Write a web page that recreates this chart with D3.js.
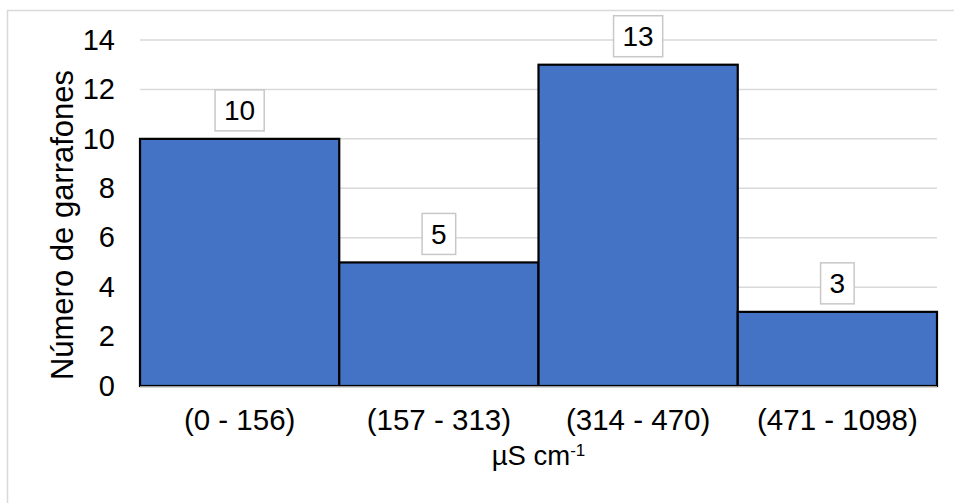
<!DOCTYPE html>
<html>
<head>
<meta charset="utf-8">
<script src="https://cdn.jsdelivr.net/npm/d3@7"></script>
<style>
  html, body { margin: 0; padding: 0; background: #fff; }
  svg { display: block; font-family: Arial, "Liberation Sans", sans-serif; }
</style>
</head>
<body>
<svg id="chart" width="954" height="503"></svg>
<script>
// Conductivity classes and count of bottles in each
const categories = ["(0 - 156)", "(157 - 313)", "(314 - 470)", "(471 - 1098)"];
const counts = [10, 5, 13, 3];
const yTicks = [0, 2, 4, 6, 8, 10, 12, 14];
const yTitle = "Número de garrafones";
const xTitleBase = "µS cm";
const xTitleSup = "-1";

const svg = d3.select("#chart");
const W = 954, H = 503;
const margin = { left: 140, right: 17, top: 40, bottom: 117 };
const FONT = "Arial, 'Liberation Sans', sans-serif";

// Outer chart-area frame (runs past the right and bottom edges)
svg.append("rect")
  .attr("x", 7.5).attr("y", 10.5)
  .attr("width", 1000).attr("height", 600)
  .attr("fill", "#fff")
  .attr("stroke", "#d9d9d9").attr("stroke-width", 1.5);

const x = d3.scaleBand()
  .domain(categories)
  .range([margin.left, W - margin.right])
  .padding(0);

const y = d3.scaleLinear()
  .domain([0, 14])
  .range([H - margin.bottom, margin.top]);

// Horizontal gridlines
svg.append("g")
  .selectAll("line")
  .data(yTicks.filter(d => d > 0))
  .join("line")
  .attr("x1", margin.left).attr("x2", W - margin.right)
  .attr("y1", d => y(d)).attr("y2", d => y(d))
  .attr("stroke", "#d9d9d9").attr("stroke-width", 1.5);

// Y axis labels
const yAxis = d3.axisLeft(y).tickValues(yTicks).tickSize(0).tickPadding(0);
const gy = svg.append("g")
  .attr("transform", `translate(${margin.left - 25},0)`)
  .call(yAxis);
gy.select(".domain").remove();
gy.selectAll("text")
  .attr("font-size", 29).attr("fill", "#000")
  .attr("font-family", FONT);

// Bars
svg.append("g")
  .selectAll("rect")
  .data(counts)
  .join("rect")
  .attr("x", (d, i) => x(categories[i]))
  .attr("y", d => y(d))
  .attr("width", x.bandwidth())
  .attr("height", d => y(0) - y(d))
  .attr("fill", "#4472c4")
  .attr("stroke", "#000").attr("stroke-width", 2.2);

// Baseline
svg.append("line")
  .attr("x1", margin.left).attr("x2", W - margin.right)
  .attr("y1", y(0) + 1).attr("y2", y(0) + 1)
  .attr("stroke", "#d0d0d0").attr("stroke-width", 1.5);

// X axis labels
const xAxis = d3.axisBottom(x).tickSize(0).tickPadding(0);
const gx = svg.append("g")
  .attr("transform", `translate(0,${y(0) + 23})`)
  .call(xAxis);
gx.select(".domain").remove();
gx.selectAll("text")
  .attr("font-size", 29.5).attr("fill", "#000")
  .attr("font-family", FONT);

// Value labels in boxes above each bar
const fs = 28;
const lab = svg.append("g")
  .selectAll("g")
  .data(counts)
  .join("g")
  .attr("transform", (d, i) => `translate(${x(categories[i]) + x.bandwidth() / 2},${y(d) - 8})`);
lab.each(function (d) {
  const g = d3.select(this);
  const t = g.append("text")
    .attr("text-anchor", "middle")
    .attr("font-size", fs)
    .attr("y", -10.5)
    .attr("fill", "#000")
    .text(d);
  const tw = t.node().getComputedTextLength();
  g.insert("rect", "text")
    .attr("x", -tw / 2 - 9).attr("y", -41)
    .attr("width", tw + 18).attr("height", 41)
    .attr("fill", "#fff")
    .attr("stroke", "#c8c8c8").attr("stroke-width", 1.5);
});

// Axis titles
const xt = svg.append("text")
  .attr("x", (margin.left + W - margin.right) / 2)
  .attr("y", 465)
  .attr("text-anchor", "middle")
  .attr("font-size", 27.5)
  .attr("fill", "#000");
xt.append("tspan").text(xTitleBase);
xt.append("tspan").attr("font-size", 17).attr("dy", -9).text(xTitleSup);

svg.append("text")
  .attr("transform", `translate(73,${(margin.top + H - margin.bottom) / 2 + 12}) rotate(-90)`)
  .attr("text-anchor", "middle")
  .attr("font-size", 31)
  .attr("fill", "#000")
  .text(yTitle);
</script>
</body>
</html>
